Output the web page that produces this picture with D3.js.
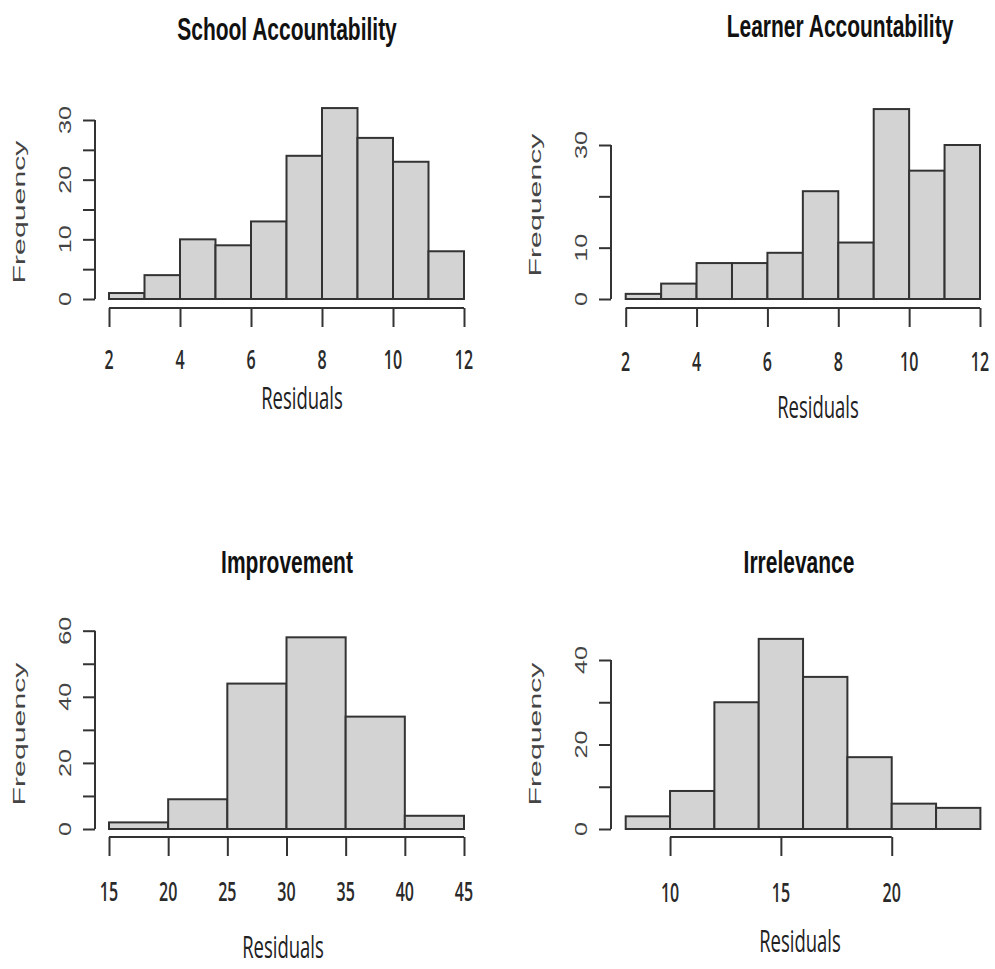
<!DOCTYPE html>
<html lang="en">
<head>
  <meta charset="UTF-8">
  <title>Residual histograms</title>
  <script src="https://d3js.org/d3.v7.min.js"></script>
  <style>
    body {
      margin: 0;
      background: #fff;
    }
    svg {
      display: block;
    }
  </style>
</head>
<body>
  <div id="chart"></div>

  <script>
    // histogram data
    const schoolBreaks = [2, 3, 4, 5, 6, 7, 8, 9, 10, 11, 12];
    const schoolCounts = [1, 4, 10, 9, 13, 24, 32, 27, 23, 8];

    const learnerBreaks = [2, 3, 4, 5, 6, 7, 8, 9, 10, 11, 12];
    const learnerCounts = [1, 3, 7, 7, 9, 21, 11, 37, 25, 30];

    const improvementBreaks = [15, 20, 25, 30, 35, 40, 45];
    const improvementCounts = [2, 9, 44, 58, 34, 4];

    const irrelevanceBreaks = [8, 10, 12, 14, 16, 18, 20, 22, 24];
    const irrelevanceCounts = [3, 9, 30, 45, 36, 17, 6, 5];

    // axis ticks and the labels R printed
    const schoolXTicks = [2, 4, 6, 8, 10, 12];
    const schoolYTicks = [0, 5, 10, 15, 20, 25, 30];
    const schoolYLabels = [0, 10, 20, 30];

    const learnerXTicks = [2, 4, 6, 8, 10, 12];
    const learnerYTicks = [0, 10, 20, 30];
    const learnerYLabels = [0, 10, 30];

    const improvementXTicks = [15, 20, 25, 30, 35, 40, 45];
    const improvementYTicks = [0, 10, 20, 30, 40, 50, 60];
    const improvementYLabels = [0, 20, 40, 60];

    const irrelevanceXTicks = [10, 15, 20];
    const irrelevanceYTicks = [0, 10, 20, 30, 40];
    const irrelevanceYLabels = [0, 20, 40];

    const width = 995, height = 969;
    const ink = "#333";

    const svg = d3.select("#chart").append("svg")
      .attr("width", width)
      .attr("height", height);

    // the picture is stretched vertically, so text gets scaled too
    function label(g, x, y, txt, o) {
      g.append("g")
        .attr("transform", `translate(${x},${y}) scale(1,${o.sy})` + (o.rot ? " rotate(-90)" : ""))
        .append("text")
        .attr("text-anchor", "middle")
        .style("font-family", o.font)
        .style("font-size", o.size + "px")
        .style("font-weight", o.weight || "normal")
        .style("fill", o.color || "#222")
        .text(txt);
    }

    const sans = "'Liberation Sans', Arial, sans-serif";
    const open = "'Open Sans', sans-serif";

    const panels = [
      { title: "School Accountability", breaks: schoolBreaks, counts: schoolCounts,
        xTicks: schoolXTicks, yTicks: schoolYTicks, yLabels: schoolYLabels,
        xr: [109, 464], yr: [299, 120], yAxisX: 95, xAxisY: 308,
        titleX: 287, titleY: 40, xLabX: 302, xLabY: 409, tickY: 369, freqY: 212 },
      { title: "Learner Accountability", breaks: learnerBreaks, counts: learnerCounts,
        xTicks: learnerXTicks, yTicks: learnerYTicks, yLabels: learnerYLabels,
        xr: [625.7, 980], yr: [299, 145], yAxisX: 611, xAxisY: 308,
        titleX: 840, titleY: 37, xLabX: 818, xLabY: 418, tickY: 371, freqY: 205 },
      { title: "Improvement", breaks: improvementBreaks, counts: improvementCounts,
        xTicks: improvementXTicks, yTicks: improvementYTicks, yLabels: improvementYLabels,
        xr: [109, 464], yr: [829, 630.7], yAxisX: 95, xAxisY: 837,
        titleX: 287, titleY: 573, xLabX: 283, xLabY: 958, tickY: 901, freqY: 734 },
      { title: "Irrelevance", breaks: irrelevanceBreaks, counts: irrelevanceCounts,
        xTicks: irrelevanceXTicks, yTicks: irrelevanceYTicks, yLabels: irrelevanceYLabels,
        xr: [625.7, 980.4], yr: [829, 660], yAxisX: 611, xAxisY: 837,
        titleX: 799, titleY: 573, xLabX: 800, xLabY: 952, tickY: 902, freqY: 734 }
    ];

    panels.forEach(p => {
      const g = svg.append("g");
      const bins = p.counts.map((c, i) => ({ x0: p.breaks[i], x1: p.breaks[i + 1], n: c }));

      const x = d3.scaleLinear()
        .domain([p.breaks[0], p.breaks[p.breaks.length - 1]])
        .range(p.xr);
      const y = d3.scaleLinear()
        .domain([0, d3.max(p.yTicks)])
        .range(p.yr);

      g.selectAll("rect")
        .data(bins)
        .enter()
        .append("rect")
        .attr("x", d => x(d.x0))
        .attr("y", d => y(d.n))
        .attr("width", d => x(d.x1) - x(d.x0))
        .attr("height", d => y(0) - y(d.n))
        .attr("fill", "#d3d3d3")
        .attr("stroke", ink)
        .attr("stroke-width", 2);

      // x axis, R style: line from first to last tick, long ticks below
      const xAxis = d3.axisBottom(x)
        .tickValues(p.xTicks)
        .tickSize(19)
        .tickSizeOuter(0)
        .tickFormat("");
      const gx = g.append("g")
        .attr("transform", `translate(0,${p.xAxisY})`)
        .call(xAxis);
      gx.select(".domain").remove();
      gx.selectAll("line").attr("stroke", ink).attr("stroke-width", 2);
      gx.append("line")
        .attr("x1", x(p.xTicks[0])).attr("x2", x(p.xTicks[p.xTicks.length - 1]))
        .attr("stroke", ink).attr("stroke-width", 2);

      p.xTicks.forEach(t => label(g, x(t), p.tickY, t,
        { sy: 1.68, size: 16, font: open, weight: 600, color: "#2a2a2a" }));

      // y axis
      const yAxis = d3.axisLeft(y)
        .tickValues(p.yTicks)
        .tickSize(12)
        .tickSizeOuter(0)
        .tickFormat("");
      const gy = g.append("g")
        .attr("transform", `translate(${p.yAxisX},0)`)
        .call(yAxis);
      gy.select(".domain").remove();
      gy.selectAll("line").attr("stroke", ink).attr("stroke-width", 2);
      gy.append("line")
        .attr("y1", y(p.yTicks[0])).attr("y2", y(p.yTicks[p.yTicks.length - 1]))
        .attr("stroke", ink).attr("stroke-width", 2);

      p.yLabels.forEach(t => label(g, p.yAxisX - 24, y(t), t,
        { sy: 1.48, size: 17, font: sans, rot: true, color: "#444" }));

      label(g, p.yAxisX - 70, p.freqY, "Frequency",
        { sy: 1.78, size: 17, font: sans, rot: true, color: "#444" });
      label(g, p.xLabX, p.xLabY, "Residuals", { sy: 1.7, size: 18.5, font: open });
      label(g, p.titleX, p.titleY, p.title, { sy: 1.5, size: 21, font: sans, weight: "bold", color: "#111" });
    });
  </script>
</body>
</html>
